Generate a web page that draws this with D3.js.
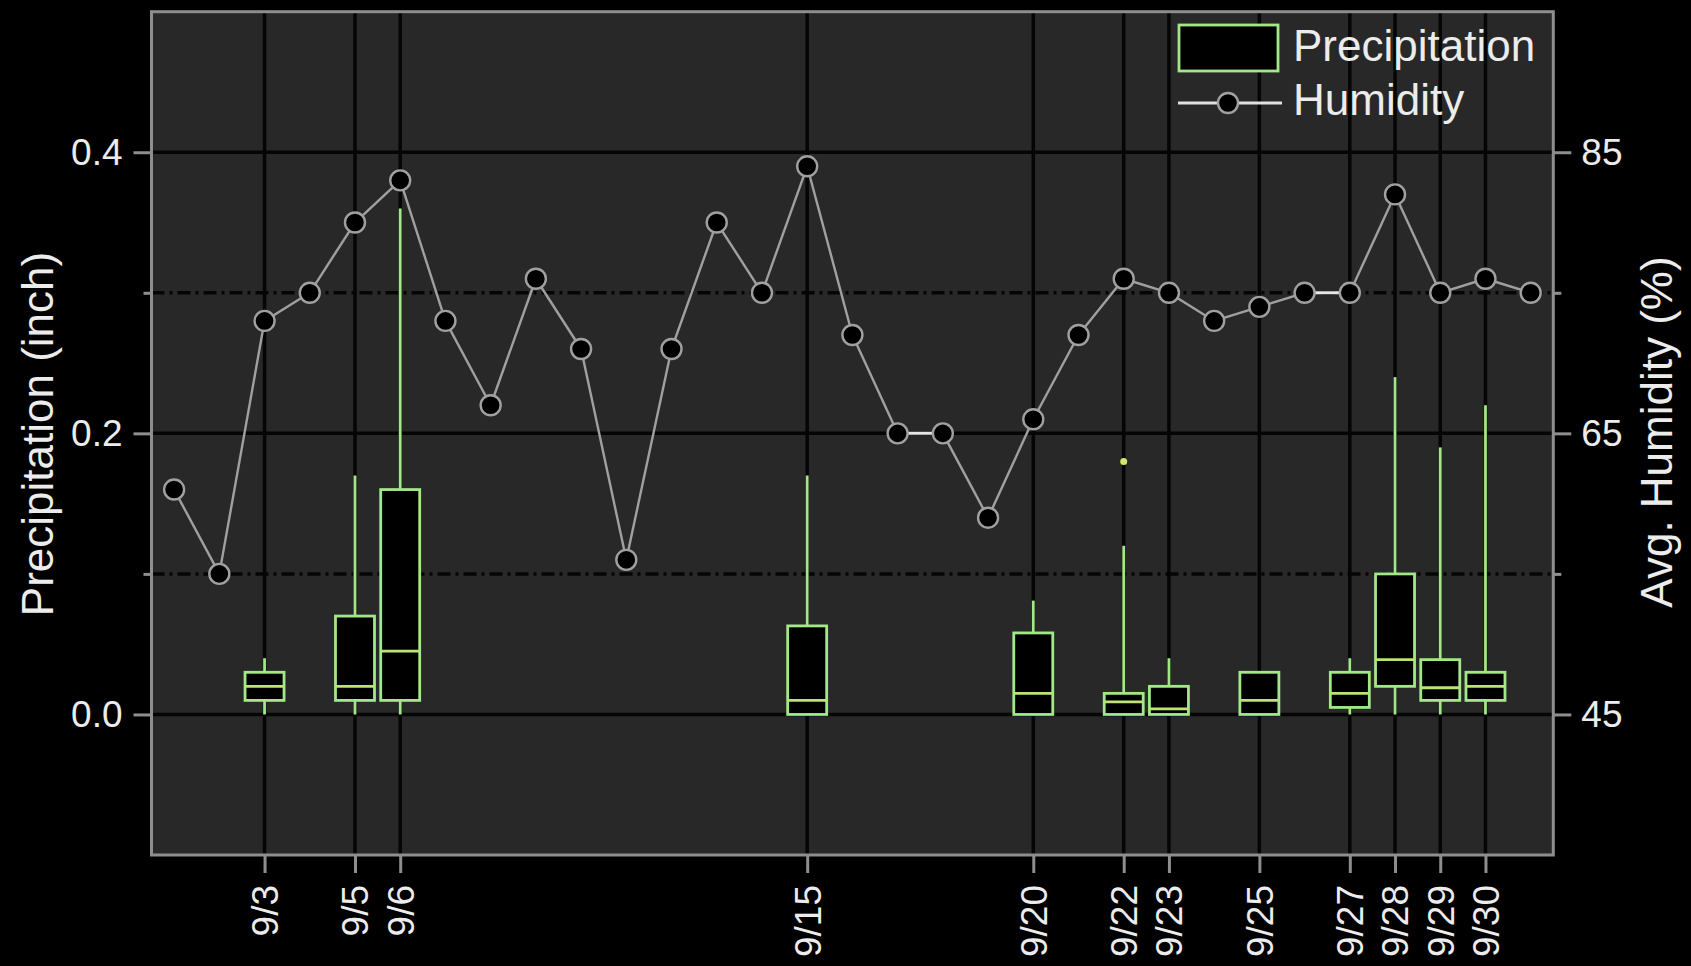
<!DOCTYPE html>
<html>
<head>
<meta charset="utf-8">
<script src="https://cdn.jsdelivr.net/npm/d3@7"></script>
<style>
  html, body { margin: 0; padding: 0; background: #000; }
  svg { display: block; }
  text { font-family: "Liberation Sans", Arial, sans-serif; fill: #ececec; }
</style>
</head>
<body>
<svg id="chart" width="1691" height="966"></svg>
<script>
// Labelled days of September that carry precipitation box plots
const boxDates = ["9/3", "9/5", "9/6", "9/15", "9/20", "9/22", "9/23", "9/25", "9/27", "9/28", "9/29", "9/30"];
const boxDays  = [3, 5, 6, 15, 20, 22, 23, 25, 27, 28, 29, 30];

// Precipitation distribution per day (inch)
const precipMin    = [0, 0, 0, 0, 0, 0, 0, 0, 0, 0, 0, 0];
const precipQ1     = [0.01, 0.01, 0.01, 0, 0, 0, 0, 0, 0.005, 0.02, 0.01, 0.01];
const precipMedian = [0.02, 0.02, 0.045, 0.01, 0.015, 0.009, 0.004, 0.01, 0.015, 0.039, 0.019, 0.02];
const precipQ3     = [0.03, 0.07, 0.16, 0.063, 0.058, 0.015, 0.02, 0.03, 0.03, 0.1, 0.039, 0.03];
const precipMax    = [0.04, 0.17, 0.36, 0.17, 0.081, 0.12, 0.04, 0.03, 0.04, 0.24, 0.19, 0.22];
const precipOutliers = [{ day: 22, value: 0.18 }];

// Average daily humidity (%), 9/1 through 10/1
const humidity = [61, 55, 73, 75, 80, 83, 73, 67, 76, 71, 56, 71, 80, 75, 84, 72,
                  65, 65, 59, 66, 72, 76, 75, 73, 74, 75, 75, 82, 75, 76, 75];

// Axis ticks
const precipMajorTicks = [0, 0.2, 0.4];
const precipMinorTicks = [0.1, 0.3];
const humidMajorTicks = [45, 65, 85];
const humidMinorTicks = [55, 75];

const svg = d3.select("#chart");
const W = 1691, H = 966;
const plot = { left: 151.5, right: 1553.3, top: 11.7, bottom: 855 };

const x = d3.scaleLinear().domain([0.5, 31.5]).range([plot.left, plot.right]);
const y = d3.scaleLinear().domain([-0.1, 0.5]).range([plot.bottom, plot.top]);
const yH = d3.scaleLinear().domain([35, 95]).range([plot.bottom, plot.top]);

const boxColor = "#a2e888";
const frameColor = "#8e8e8e";
const lineColor = "#a0a0a0";

svg.append("rect").attr("width", W).attr("height", H).attr("fill", "#000");

// Plot background
svg.append("rect")
  .attr("x", plot.left).attr("y", plot.top)
  .attr("width", plot.right - plot.left).attr("height", plot.bottom - plot.top)
  .attr("fill", "#282828");

// Grid
const grid = svg.append("g");
grid.selectAll("line.vg").data(boxDays).join("line")
  .attr("x1", d => x(d)).attr("x2", d => x(d))
  .attr("y1", plot.top).attr("y2", plot.bottom)
  .attr("stroke", "#050505").attr("stroke-width", 3.5);
grid.selectAll("line.hg").data(precipMajorTicks).join("line")
  .attr("x1", plot.left).attr("x2", plot.right)
  .attr("y1", d => y(d)).attr("y2", d => y(d))
  .attr("stroke", "#050505").attr("stroke-width", 3.5);
grid.selectAll("line.hm").data(precipMinorTicks).join("line")
  .attr("x1", plot.left).attr("x2", plot.right)
  .attr("y1", d => y(d)).attr("y2", d => y(d))
  .attr("stroke", "#050505").attr("stroke-width", 3.5)
  .attr("stroke-dasharray", "13,5,3,5");

// Box plots
const boxW = 39;
const boxes = svg.append("g").selectAll("g").data(boxDays.map((d, i) => ({
  day: d, min: precipMin[i], q1: precipQ1[i], med: precipMedian[i], q3: precipQ3[i], max: precipMax[i]
}))).join("g");

boxes.filter(d => d.max > d.q3).append("line")
  .attr("x1", d => x(d.day)).attr("x2", d => x(d.day))
  .attr("y1", d => y(d.q3)).attr("y2", d => y(d.max))
  .attr("stroke", boxColor).attr("stroke-width", 2.8);
boxes.filter(d => d.q1 > d.min).append("line")
  .attr("x1", d => x(d.day)).attr("x2", d => x(d.day))
  .attr("y1", d => y(d.q1)).attr("y2", d => y(d.min))
  .attr("stroke", boxColor).attr("stroke-width", 2.8);
boxes.append("rect")
  .attr("x", d => x(d.day) - boxW / 2).attr("width", boxW)
  .attr("y", d => y(d.q3)).attr("height", d => y(d.q1) - y(d.q3))
  .attr("fill", "#000").attr("stroke", boxColor).attr("stroke-width", 2.8);
boxes.append("line")
  .attr("x1", d => x(d.day) - boxW / 2).attr("x2", d => x(d.day) + boxW / 2)
  .attr("y1", d => y(d.med)).attr("y2", d => y(d.med))
  .attr("stroke", "#bce472").attr("stroke-width", 2.8);

svg.append("g").selectAll("circle").data(precipOutliers).join("circle")
  .attr("cx", d => x(d.day)).attr("cy", d => y(d.value)).attr("r", 3.5)
  .attr("fill", "#d2e86a");

// Humidity line: flat segments render brighter
const hPts = humidity.map((v, i) => ({ day: i + 1, v }));
const segs = d3.pairs(hPts);
svg.append("g").selectAll("line").data(segs).join("line")
  .attr("x1", d => x(d[0].day)).attr("y1", d => yH(d[0].v))
  .attr("x2", d => x(d[1].day)).attr("y2", d => yH(d[1].v))
  .attr("stroke", d => d[0].v === d[1].v ? "#e6e6e6" : lineColor)
  .attr("stroke-width", d => d[0].v === d[1].v ? 3 : 2.4);
svg.append("g").selectAll("circle").data(hPts).join("circle")
  .attr("cx", d => x(d.day)).attr("cy", d => yH(d.v)).attr("r", 10)
  .attr("fill", "#000").attr("stroke", lineColor).attr("stroke-width", 2.4);

// Frame
svg.append("rect")
  .attr("x", plot.left).attr("y", plot.top)
  .attr("width", plot.right - plot.left).attr("height", plot.bottom - plot.top)
  .attr("fill", "none").attr("stroke", frameColor).attr("stroke-width", 3);

const tickFont = "37px";

// Left axis
svg.append("g").attr("transform", `translate(${plot.left},0)`)
  .call(d3.axisLeft(y).tickValues(precipMajorTicks).tickSize(18).tickPadding(11).tickFormat(d3.format(".1f")));
svg.append("g").attr("transform", `translate(${plot.left},0)`)
  .call(d3.axisLeft(y).tickValues(precipMinorTicks).tickSize(8).tickFormat(""));

// Right axis
svg.append("g").attr("transform", `translate(${plot.right},0)`)
  .call(d3.axisRight(yH).tickValues(humidMajorTicks).tickSize(18).tickPadding(10).tickFormat(d3.format("d")));
svg.append("g").attr("transform", `translate(${plot.right},0)`)
  .call(d3.axisRight(yH).tickValues(humidMinorTicks).tickSize(8).tickFormat(""));

// Bottom axis
const bottomAxis = svg.append("g").attr("transform", `translate(0,${plot.bottom})`)
  .call(d3.axisBottom(x).tickValues(boxDays).tickSize(18).tickFormat((d, i) => boxDates[i]));
bottomAxis.selectAll("text")
  .attr("transform", "translate(0,30) rotate(-90)")
  .attr("x", 0).attr("y", 0).attr("dy", "0.35em")
  .attr("text-anchor", "end");

svg.selectAll(".domain").remove();
svg.selectAll(".tick line").attr("stroke", frameColor).attr("stroke-width", 3);
svg.selectAll(".tick text").attr("fill", "#ececec").style("font-size", tickFont)
  .style("font-family", "'Liberation Sans', Arial, sans-serif");

// Axis titles
svg.append("text")
  .attr("transform", `translate(53,434) rotate(-90)`)
  .attr("text-anchor", "middle").style("font-size", "44px")
  .text("Precipitation (inch)");
svg.append("text")
  .attr("transform", `translate(1672,432) rotate(-90)`)
  .attr("text-anchor", "middle").style("font-size", "44px")
  .text("Avg. Humidity (%)");

// Legend
const lg = svg.append("g");
lg.append("rect").attr("x", 1179).attr("y", 25).attr("width", 99).attr("height", 46)
  .attr("fill", "#000").attr("stroke", boxColor).attr("stroke-width", 2.8);
lg.append("text").attr("x", 1293).attr("y", 61).style("font-size", "44px").text("Precipitation");
lg.append("line").attr("x1", 1178).attr("x2", 1282).attr("y1", 103).attr("y2", 103)
  .attr("stroke", "#e0e0e0").attr("stroke-width", 3);
lg.append("circle").attr("cx", 1228).attr("cy", 103).attr("r", 10)
  .attr("fill", "#000").attr("stroke", lineColor).attr("stroke-width", 2.4);
lg.append("text").attr("x", 1293).attr("y", 115).style("font-size", "44px").text("Humidity");
</script>
</body>
</html>
